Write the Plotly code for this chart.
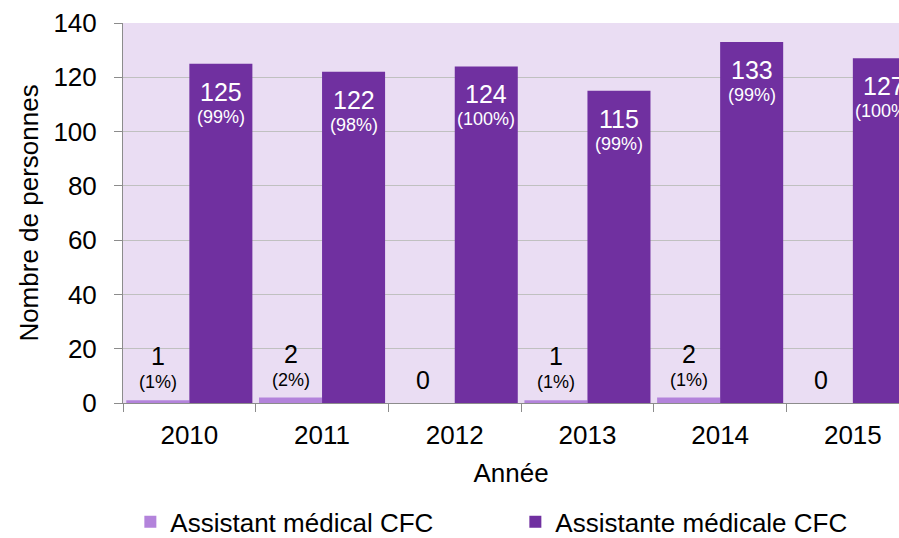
import plotly.graph_objects as go

years = ["2010", "2011", "2012", "2013", "2014", "2015"]
assistant = [1, 2, 0, 1, 2, 0]
assistant_pct = ["(1%)", "(2%)", "", "(1%)", "(1%)", ""]
assistante = [125, 122, 124, 115, 133, 127]
assistante_pct = ["(99%)", "(98%)", "(100%)", "(99%)", "(99%)", "(100%)"]
y_ticks = [0, 20, 40, 60, 80, 100, 120, 140]

LIGHT = "#B383DB"
DARK = "#7030A0"
BG = "#EADDF3"
FONT = "Liberation Sans, Arial, sans-serif"
AX = 26
BIG = 25
SMALL = 18

fig = go.Figure()
fig.add_trace(go.Bar(name="Assistant médical CFC", x=years, y=assistant,
                     marker=dict(color=LIGHT, line=dict(width=0))))
fig.add_trace(go.Bar(name="Assistante médicale CFC", x=years, y=assistante,
                     marker=dict(color=DARK, line=dict(width=0))))

BARGAP = 0.05
half = (1 - BARGAP) / 4  # offset of each bar centre from category centre

ann = []
for i, (v, p) in enumerate(zip(assistant, assistant_pct)):
    xc = i - half
    if p:
        ann.append(dict(x=xc, y=v, text=str(v), yshift=44, font=dict(size=BIG, color="black")))
        ann.append(dict(x=xc, y=v, text=p, yshift=18, font=dict(size=SMALL, color="black")))
    else:
        ann.append(dict(x=xc, y=v, text=str(v), yshift=23, font=dict(size=BIG, color="black")))
for i, (v, p) in enumerate(zip(assistante, assistante_pct)):
    xc = i + half
    ann.append(dict(x=xc, y=v, text=str(v), yshift=-28, font=dict(size=BIG, color="white")))
    ann.append(dict(x=xc, y=v, text=p, yshift=-53, font=dict(size=SMALL, color="white")))
for a in ann:
    a.update(xref="x", yref="y", showarrow=False, xanchor="center", yanchor="middle")
    a["font"]["family"] = FONT

fig.update_layout(
    width=899, height=538,
    margin=dict(l=123, r=0, t=23, b=135),
    barmode="group", bargap=BARGAP, bargroupgap=0,
    paper_bgcolor="white", plot_bgcolor=BG,
    font=dict(family=FONT, size=AX, color="black"),
    showlegend=True,
    legend=dict(orientation="h", xref="container", yref="container",
                x=0.145, xanchor="left", y=0.03, yanchor="middle",
                font=dict(size=AX), entrywidth=340, entrywidthmode="pixels",
                bgcolor="rgba(0,0,0,0)"),
    annotations=ann,
)
fig.update_xaxes(
    type="category", range=[-0.5, -0.5 + 776 / 132.7], automargin=False,
    showline=True, linecolor="#8C8C8C", linewidth=1,
    ticks="outside", tickson="boundaries", ticklen=8, tickcolor="#8C8C8C",
    ticklabelstandoff=9,
    title=dict(text="Année", standoff=14, font=dict(size=AX)),
    showgrid=False,
)
fig.update_yaxes(
    range=[0, 140], tickvals=y_ticks, ticktext=[str(t) for t in y_ticks],
    automargin=False,
    showline=True, linecolor="#8C8C8C", linewidth=1,
    ticks="outside", ticklen=8, tickcolor="#8C8C8C",
    ticklabelstandoff=12,
    showgrid=True, gridcolor="#C0C0C0", gridwidth=1,
    zeroline=False,
    title=dict(text="Nombre de personnes", standoff=7, font=dict(size=AX)),
)

fig.write_html("out.html", config={"displayModeBar": False},
               post_script="document.body.style.margin='0';")
